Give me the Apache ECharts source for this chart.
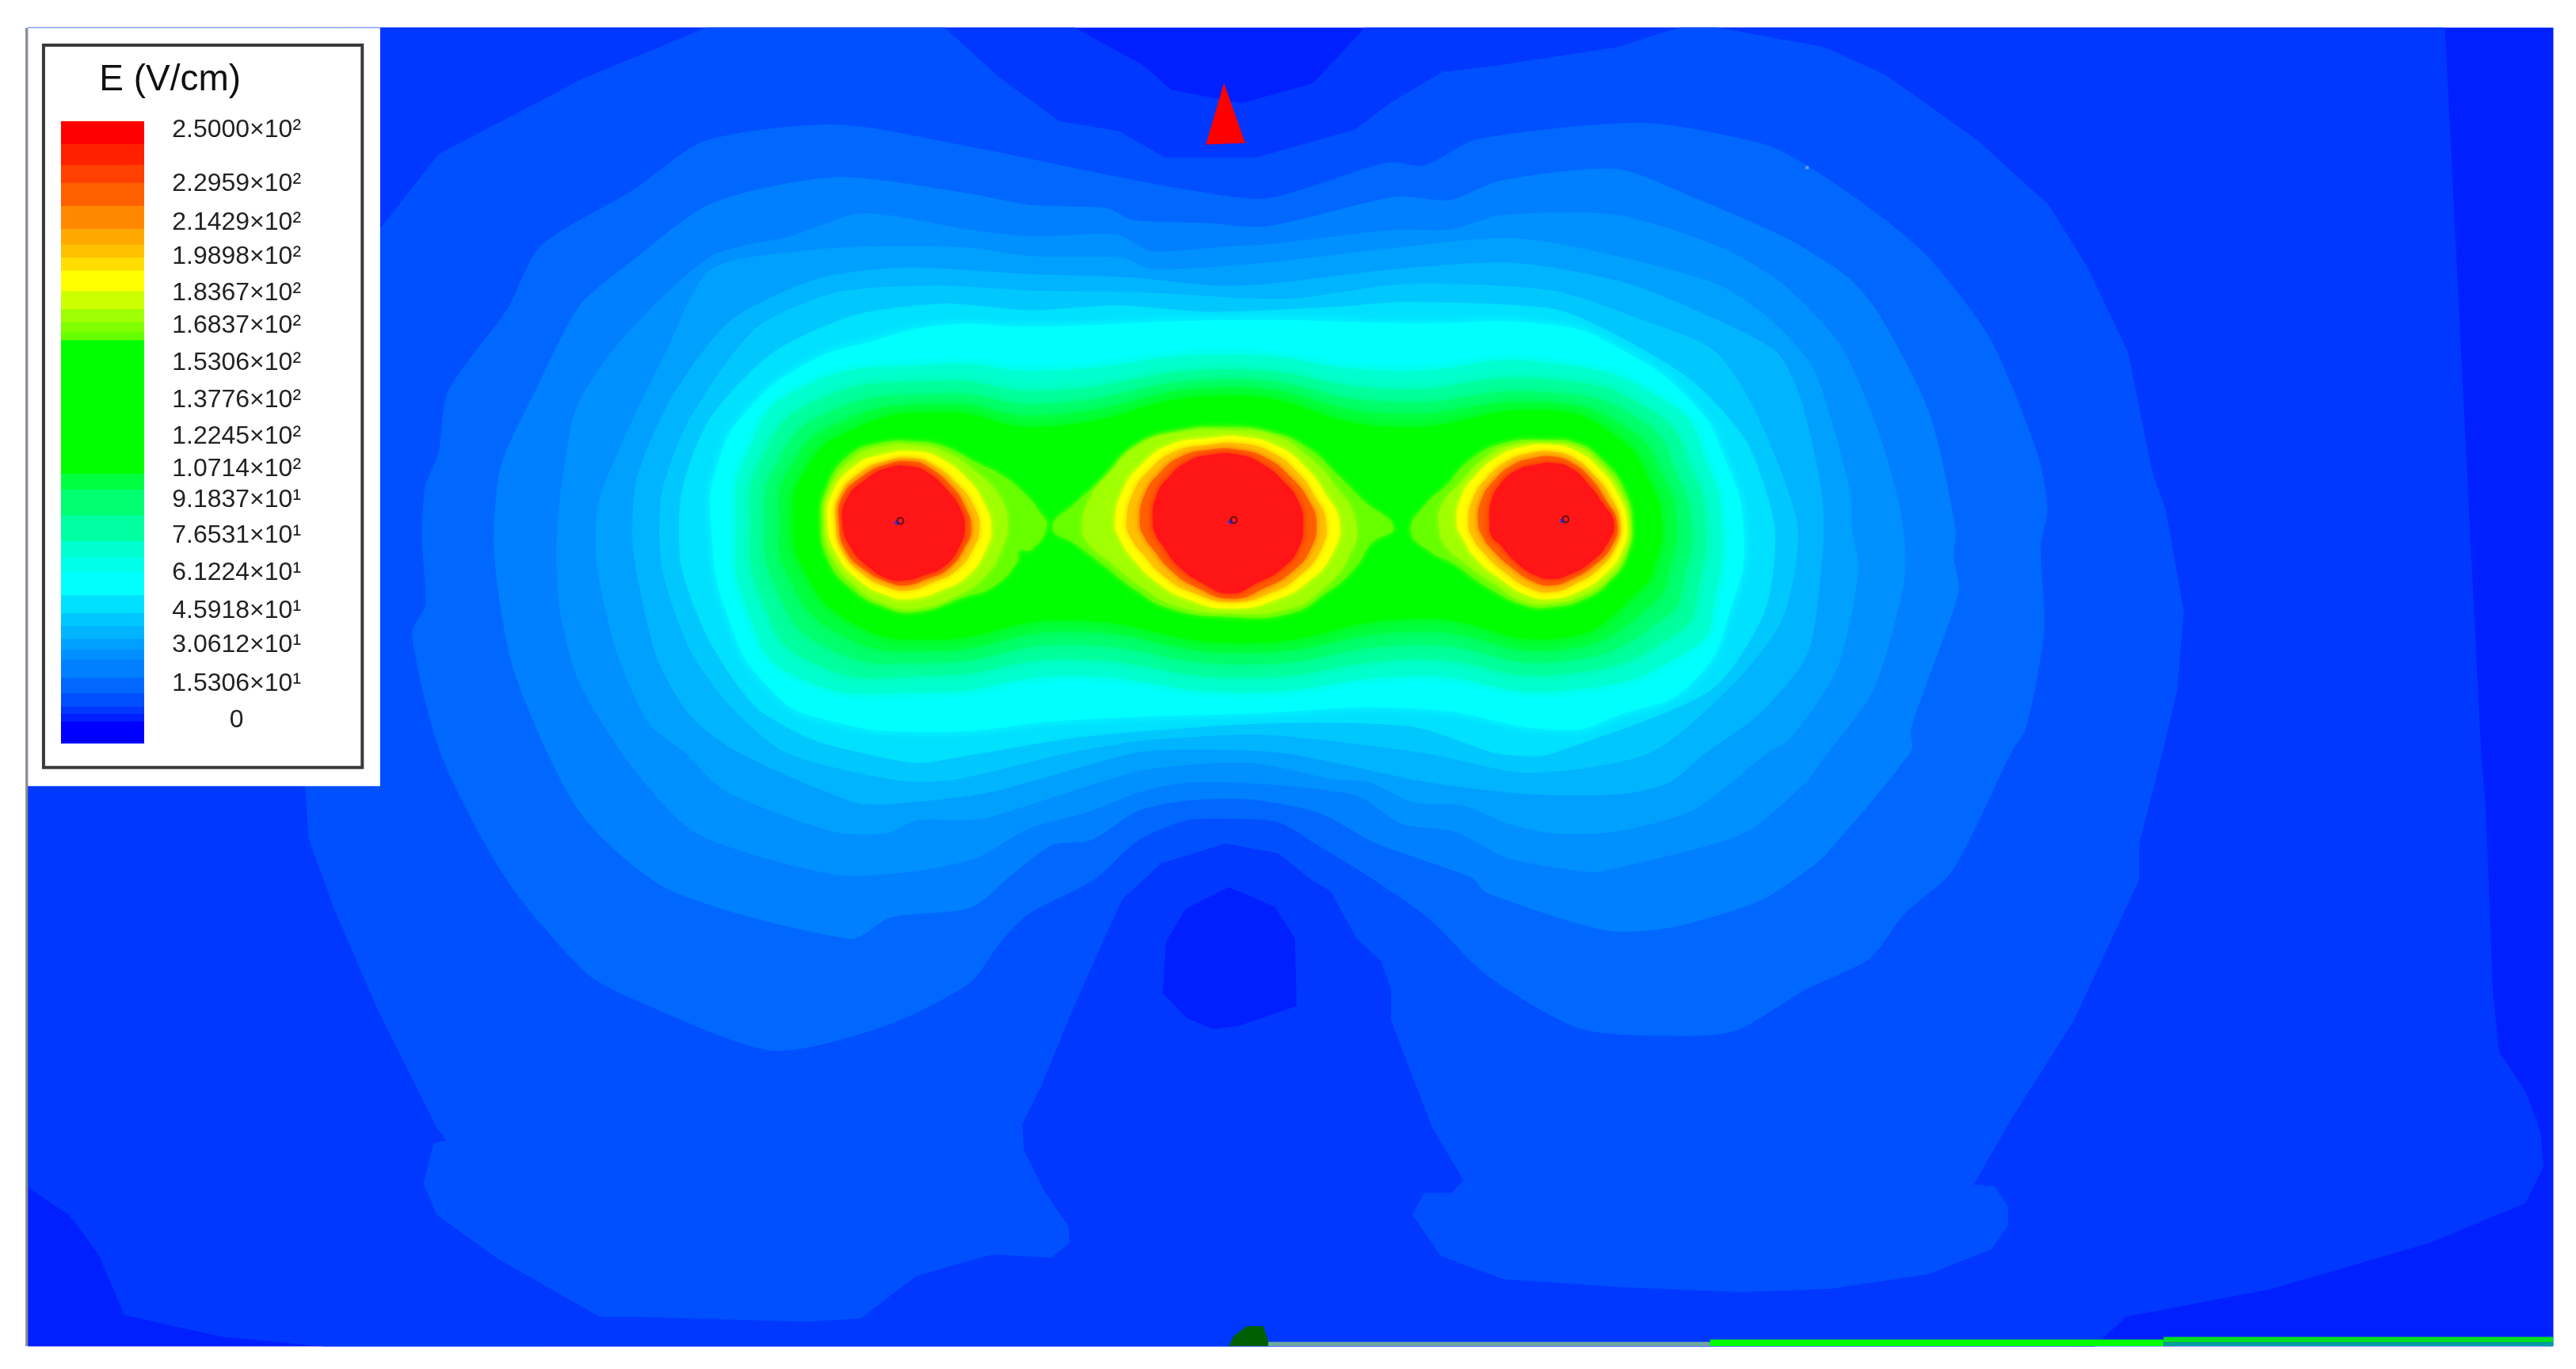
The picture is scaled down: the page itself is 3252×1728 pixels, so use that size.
<!DOCTYPE html>
<html>
<head>
<meta charset="utf-8">
<title>E (V/cm)</title>
<style>
    html, body { margin: 0; padding: 0; background: #fff; }
    #main { width: 3252px; height: 1728px; }
</style>
<script src="https://cdn.jsdelivr.net/npm/echarts@6/dist/echarts.min.js"></script>
</head>
<body>
<div id="main"></div>
<script>
// legend text
var legendTitle = 'E (V/cm)';
var legendLabels = ['2.5000×10²', '2.2959×10²', '2.1429×10²', '1.9898×10²', '1.8367×10²', '1.6837×10²',
    '1.5306×10²', '1.3776×10²', '1.2245×10²', '1.0714×10²', '9.1837×10¹', '7.6531×10¹', '6.1224×10¹',
    '4.5918×10¹', '3.0612×10¹', '1.5306×10¹', '0'];
var legendLabelRows = [79, 112, 135.5, 156.2, 178.4, 198.2, 220.9, 243.5, 265.7, 285.5, 304.3, 326, 348.6, 371.8, 392.5, 416.1, 438.3];

// colour bar: band edges in V/cm, top to bottom, and the colour of each band
var barEdges = [250, 240.8, 232.5, 225.2, 215.9, 206.6, 200.4, 195.2, 190, 181.7, 174.5, 169.3, 165.1, 162,
    108.2, 101.9, 91.6, 81.2, 75, 68.8, 59.5, 52.2, 47, 41.9, 37.7, 33.6, 26.3, 20.1, 14.9, 11.8, 8.7, 0];
var barColors = ['#ff0000', '#ff2000', '#ff4000', '#ff6000', '#ff8800', '#ffa800', '#ffc000', '#ffdd00',
    '#ffff00', '#ccff00', '#a0ff00', '#80ff00', '#66ff00', '#00ff00', '#00ff40', '#00ff70', '#00ffa0',
    '#00ffd0', '#00ffe8', '#00ffff', '#00e0ff', '#00c8ff', '#00b4ff', '#00a0ff', '#0090ff', '#0080ff',
    '#0068ff', '#0050ff', '#0038ff', '#0020ff', '#0000ff'];

// iso-field outlines, in reference units (1568 x 833)
var fieldFrame = [[17, 17], [1554, 17], [1554, 819], [17, 819]];
var contourE13 = [[17, 722], [17, 17], [654, 17], [696, 40], [713, 55], [756, 63], [799, 51], [831, 17], [1488, 17],
    [1510, 458], [1513, 494], [1517, 602], [1521, 640], [1537, 664], [1546, 688],
    [1548, 710], [1537, 732], [1479, 756], [1383, 784], [1294, 801], [1275, 819], [197, 819], [134, 813],
    [76, 800], [60, 763], [43, 740]];
var lowPocket = [[708, 604], [710, 573], [722, 553], [748, 540], [776, 552], [788, 571], [789, 612], [754, 624], [738, 626], [722, 619]];
var contourE17 = [[186, 478], [188, 510], [204, 554], [230, 614], [266, 686], [272, 694], [264, 696], [258, 720],
    [266, 739], [302, 765], [365, 801], [386, 801], [489, 804], [524, 802], [558, 776], [604, 763], [640, 765],
    [651, 756], [650, 746], [635, 724], [623, 700], [622, 684], [633, 662], [652, 616], [671, 573], [683, 547],
    [707, 525], [746, 513], [778, 519], [798, 535], [810, 542], [826, 571], [841, 585], [847, 602], [847, 621],
    [872, 686], [891, 718], [884, 726], [867, 726], [860, 739], [877, 764], [915, 778], [987, 783], [1059, 786],
    [1114, 784], [1174, 775], [1212, 760], [1222, 746], [1222, 734], [1214, 722], [1201, 721], [1224, 681],
    [1262, 621], [1302, 535], [1302, 513], [1316, 458], [1325, 420], [1329, 372], [1318, 310], [1310, 288],
    [1295, 214], [1270, 162], [1247, 125], [1203, 85], [1148, 46], [1111, 29], [1045, 17], [1022, 17], [984, 29],
    [912, 40], [878, 44], [846, 63], [825, 79], [765, 96], [709, 96], [681, 80], [645, 74], [609, 48], [575, 17],
    [430, 17], [355, 48], [267, 94], [231, 140], [200, 300]];
var contourE23 = [[251, 386], [259, 368], [257, 328], [259, 296], [267, 276], [273, 238], [309, 188], [329, 150],
    [385, 116], [429, 86], [509, 76], [593, 90], [681, 108], [725, 116], [771, 121], [845, 99], [867, 101], [899, 85],
    [1000, 75], [1074, 88], [1100, 101], [1141, 129], [1174, 157], [1211, 206], [1240, 276], [1246, 310], [1242, 332],
    [1244, 384], [1233, 443], [1224, 458], [1188, 530], [1159, 556], [1138, 583], [1099, 602], [1059, 626], [1035, 630],
    [963, 626], [906, 594], [870, 559], [836, 535], [802, 514], [778, 500], [747, 498], [722, 499], [693, 511],
    [666, 535], [626, 556], [609, 573], [590, 598], [539, 624], [470, 639], [386, 608], [357, 592], [309, 536], [269, 460]];
var contourE30 = [[301, 336], [305, 284], [327, 236], [353, 186], [381, 162], [433, 124], [509, 108], [590, 118],
    [627, 125], [674, 127], [689, 134], [735, 136], [771, 138], [849, 120], [882, 122], [914, 110], [984, 103],
    [1030, 120], [1089, 146], [1126, 170], [1144, 192], [1174, 251], [1190, 321], [1189, 339], [1192, 360], [1163, 443],
    [1163, 457], [1111, 520], [1099, 530], [1071, 548], [1018, 564], [978, 566], [905, 543], [896, 534], [838, 513],
    [802, 494], [759, 486], [722, 487], [693, 493], [664, 511], [640, 514], [616, 532], [591, 552], [542, 558],
    [518, 571], [407, 541], [353, 494], [313, 408]];
var contourE35 = [[339, 336], [341, 304], [351, 248], [380, 205], [433, 156], [481, 144], [525, 130], [590, 140],
    [627, 144], [680, 143], [701, 153], [749, 150], [771, 149], [849, 140], [882, 140], [915, 131], [984, 131],
    [1048, 151], [1085, 173], [1120, 210], [1143, 262], [1157, 313], [1159, 352], [1140, 420], [1107, 465], [1099, 476],
    [1061, 507], [975, 530], [963, 530], [918, 522], [886, 506], [853, 501], [826, 484], [771, 477], [722, 476],
    [693, 482], [662, 494], [626, 504], [594, 522], [556, 530], [508, 532], [424, 507], [386, 468], [353, 416], [341, 372]];
var contourE40 = [[363, 340], [365, 304], [385, 256], [405, 215], [433, 164], [497, 152], [537, 150], [590, 151],
    [627, 156], [683, 157], [701, 164], [771, 160], [849, 151], [919, 145], [971, 153], [1045, 173], [1078, 195],
    [1104, 225], [1126, 299], [1127, 321], [1131, 347], [1118, 407], [1089, 450], [1076, 458], [1030, 493], [982, 506],
    [946, 507], [918, 501], [891, 490], [860, 488], [834, 476], [812, 474], [761, 464], [698, 468], [650, 482],
    [597, 498], [558, 499], [539, 507], [508, 506], [441, 481], [417, 458], [395, 440], [375, 395]];
var contourE44 = [[385, 325], [388, 290], [410, 240], [445, 195], [497, 170], [550, 163], [627, 167], [688, 169],
    [740, 174], [771, 173], [849, 164], [919, 160], [985, 171], [1030, 188], [1081, 214], [1096, 243], [1109, 302],
    [1109, 339], [1100, 398], [1070, 435], [1038, 458], [1016, 476], [987, 483], [930, 483], [865, 475], [781, 458],
    [720, 456], [690, 458], [602, 482], [542, 489], [520, 488], [450, 458], [420, 435], [400, 400], [388, 350]];
var contourE50 = [[403, 345], [403, 300], [420, 255], [460, 200], [510, 178], [570, 174], [627, 177], [692, 178],
    [783, 182], [856, 173], [945, 177], [1000, 195], [1044, 214], [1070, 254], [1094, 321], [1085, 376], [1056, 415],
    [1004, 458], [930, 470], [867, 458], [771, 447], [700, 450], [650, 458], [582, 474], [549, 475], [479, 458],
    [445, 430], [420, 395]];
var contourE55 = [[415, 345], [415, 300], [432, 255], [470, 215], [520, 192], [575, 185], [627, 189], [681, 186],
    [735, 190], [811, 187], [856, 184], [945, 188], [982, 203], [1030, 232], [1063, 269], [1080, 321], [1074, 372],
    [1041, 420], [946, 458], [934, 460], [910, 458], [860, 442], [771, 440], [660, 448], [592, 459], [558, 464],
    [525, 458], [495, 450], [460, 430], [432, 390]];
var contourE64 = [[433, 318], [438, 280], [455, 250], [490, 222], [530, 208], [576, 198], [627, 199], [752, 195],
    [856, 197], [945, 198], [985, 212], [1030, 245], [1050, 280], [1061, 321], [1055, 365], [1030, 415], [985, 435],
    [951, 444], [864, 431], [757, 434], [651, 438], [567, 445], [500, 437], [470, 420], [445, 380]];
var contourE78 = [[448, 318], [454, 278], [486, 237], [572, 222], [636, 226], [748, 216], [847, 226], [942, 221],
    [1018, 247], [1039, 283], [1048, 318], [1044, 362], [1030, 394], [951, 420], [864, 411], [757, 421], [651, 411],
    [567, 421], [484, 411], [454, 368]];
var contourE86 = [[457, 318], [463, 281], [495, 245], [572, 232], [636, 238], [748, 225], [847, 237], [942, 231],
    [1008, 252], [1030, 287], [1038, 318], [1034, 355], [1022, 384], [951, 410], [864, 401], [757, 412], [651, 401],
    [567, 411], [493, 402], [463, 362]];
var contourE96 = [[466, 318], [472, 284], [503, 252], [572, 240], [636, 246], [748, 231], [847, 245], [942, 239],
    [1000, 257], [1021, 290], [1029, 318], [1025, 350], [1014, 375], [951, 402], [864, 392], [757, 404], [651, 392],
    [567, 403], [502, 393], [472, 356]];
var contourE105 = [[475, 318], [480, 287], [510, 258], [572, 246], [636, 253], [748, 236], [847, 252], [942, 245],
    [992, 262], [1013, 292], [1020, 318], [1016, 345], [1006, 367], [951, 395], [864, 384], [757, 397], [651, 384],
    [567, 396], [510, 385], [480, 350]];
var contourE130 = [[483, 318], [488, 290], [516, 263], [572, 251], [636, 260], [748, 241], [847, 260], [942, 250],
    [985, 267], [1005, 295], [1011, 318], [1008, 340], [998, 359], [951, 388], [864, 376], [757, 391], [649, 377],
    [567, 389], [516, 377], [488, 344]];

// rings round the left conductor
var leftE163 = [[500, 318], [503, 298], [516, 278], [535, 270], [558, 269], [575, 272], [595, 282], [609, 289], [622, 299],
    [633, 312], [637, 320], [628, 334], [620, 335], [619, 342], [604, 357], [587, 363], [558, 372], [538, 369], [517, 357], [504, 340]];
var leftE172 = [[502, 318], [505, 298], [518, 280], [536, 272], [558, 271], [575, 275], [595, 288], [608, 302], [613, 318],
    [609, 335], [600, 350], [585, 361], [558, 370], [538, 367], [519, 355], [506, 338]];
var leftE186 = [[504, 318], [507, 300], [520, 284], [537, 277], [558, 275], [572, 279], [588, 291], [598, 305], [603, 321],
    [599, 336], [589, 350], [575, 358], [555, 364], [540, 362], [522, 352], [509, 336]];
var leftE198 = [[509, 318], [511, 302], [523, 288], [538, 281], [556, 279], [568, 283], [583, 295], [592, 307], [596, 321],
    [592, 334], [582, 347], [568, 354], [553, 359], [540, 357], [525, 349], [513, 335]];
var leftE220 = [[511, 318], [513, 302], [525, 290], [539, 283], [555, 281], [566, 285], [580, 297], [587, 308], [591, 321],
    [587, 333], [577, 346], [564, 352], [551, 356], [541, 354], [527, 347], [515, 335]];
var leftE245 = [[513, 318], [516, 303], [527, 292], [540, 285], [554, 284], [565, 288], [577, 299], [584, 309], [587, 320],
    [584, 332], [575, 344], [562, 350], [550, 353], [541, 352], [529, 345], [518, 333]];

// rings round the middle conductor
var midE163 = [[641, 321], [655, 306], [672, 291], [690, 272], [715, 263], [745, 260], [772, 263], [795, 272], [815, 290],
    [830, 305], [848, 321], [835, 330], [825, 345], [808, 360], [785, 373], [748, 375], [712, 370], [690, 358], [672, 344], [655, 331]];
var midE172 = [[659, 321], [663, 305], [675, 288], [695, 270], [720, 263], [748, 262], [775, 265], [795, 277], [812, 295],
    [825, 318], [820, 340], [805, 358], [785, 370], [748, 373], [715, 368], [695, 357], [675, 341], [663, 331]];
var midE186 = [[679, 318], [684, 298], [695, 283], [712, 271], [735, 267], [755, 266], [778, 272], [795, 285], [806, 300],
    [815, 318], [810, 338], [797, 353], [778, 364], [750, 370], [722, 364], [703, 353], [690, 340], [682, 328]];
var midE198 = [[686, 318], [690, 300], [700, 286], [715, 275], [735, 271], [755, 270], [775, 276], [790, 288], [800, 302],
    [807, 318], [803, 336], [791, 350], [775, 360], [750, 366], [725, 360], [708, 350], [696, 337], [689, 328]];
var midE220 = [[694, 318], [697, 301], [706, 288], [719, 278], [736, 274], [754, 274], [771, 279], [786, 291], [796, 304],
    [801, 318], [797, 335], [786, 348], [771, 357], [750, 364], [728, 357], [713, 347], [702, 334], [697, 327]];
var midE245 = [[702, 318], [704, 302], [712, 290], [723, 281], [737, 277], [754, 277], [769, 283], [782, 294], [790, 305],
    [793, 318], [790, 334], [780, 346], [766, 354], [749, 361], [731, 354], [717, 344], [708, 332], [704, 326]];

// rings round the right conductor
var rightE163 = [[859, 323], [868, 307], [880, 296], [895, 280], [915, 270], [940, 268], [960, 270], [975, 280], [988, 297],
    [993, 318], [990, 338], [980, 353], [965, 364], [945, 369], [928, 368], [905, 357], [885, 343], [870, 335]];
var rightE172 = [[876, 320], [878, 307], [888, 295], [905, 278], [920, 271], [942, 270], [960, 272], [974, 282], [986, 298],
    [992, 318], [989, 337], [979, 352], [964, 362], [945, 367], [928, 366], [908, 354], [890, 341], [880, 332]];
var rightE186 = [[887, 318], [890, 302], [898, 290], [912, 278], [928, 272], [945, 271], [960, 275], [973, 285], [984, 300],
    [990, 318], [987, 335], [977, 349], [962, 359], [945, 364], [930, 362], [912, 351], [898, 339], [891, 328]];
var rightE198 = [[894, 318], [897, 303], [905, 291], [917, 281], [931, 276], [945, 275], [958, 279], [970, 289], [980, 302],
    [986, 318], [983, 333], [973, 346], [959, 355], [945, 360], [932, 358], [916, 348], [904, 337], [897, 328]];
var rightE220 = [[900, 318], [902, 304], [910, 292], [921, 283], [933, 279], [945, 278], [957, 282], [968, 291], [977, 304],
    [984, 318], [981, 332], [970, 344], [957, 352], [945, 356], [934, 354], [920, 345], [909, 335], [903, 327]];
var rightE245 = [[907, 318], [908, 305], [914, 294], [924, 286], [935, 283], [945, 282], [956, 285], [966, 294], [975, 306],
    [982, 318], [978, 331], [968, 342], [956, 349], [945, 352], [935, 350], [923, 342], [913, 331], [908, 326]];

// painting order, outermost first, with the field value of each outline
var contourLayers = [fieldFrame, contourE13, lowPocket, contourE17, contourE23, contourE30, contourE35, contourE40,
    contourE44, contourE50, contourE55, contourE64, contourE78, contourE86, contourE96, contourE105, contourE130,
    leftE163, leftE172, leftE186, leftE198, leftE220, leftE245,
    midE163, midE172, midE186, midE198, midE220, midE245,
    rightE163, rightE172, rightE186, rightE198, rightE220, rightE245];
var contourValues = [10, 13, 10, 17, 23, 30, 35, 40, 44, 50, 55, 64, 78, 86, 96, 105, 130,
    163, 172, 186, 198, 220, 245, 163, 172, 186, 198, 220, 245, 163, 172, 186, 198, 220, 245];

// other things in the scene
var antenna = [[745, 50.5], [758, 87], [734, 88]];
var groundBlob = [[748, 819], [751, 813], [759, 807], [769, 807], [772, 816], [772, 819]];
var groundGrey = [[772, 816.5], [1041, 816.5], [1041, 819], [772, 819]];
var groundGreen = [[1041, 815], [1317, 815], [1317, 819], [1041, 819]];
var groundGreen2 = [[1317, 813.5], [1554, 813.5], [1554, 816.8], [1317, 816.8]];
var groundTeal = [[1317, 816.8], [1554, 816.8], [1554, 819], [1317, 819]];
var frameEdge = [[15.5, 17], [17, 17], [17, 819], [15.5, 819]];
var sceneShapes = [antenna, groundBlob, groundGrey, groundGreen, groundGreen2, groundTeal, frameEdge];
var sceneColors = ['#ff0000', '#005f00', '#6fa8a0', '#00ff00', '#00e020', '#00a0a0', '#8a8a8a'];

var conductorX = [546, 749, 951];
var conductorY = [318, 317.5, 317];
var strayPoint = [[1100, 102]];

// legend panel and frame
var legendPanel = [[17, 17], [231.4, 17], [231.4, 478.3], [17, 478.3]];
var legendFrame = [[26.5, 27.5], [220.5, 27.5], [220.5, 467], [26.5, 467]];

function colorOf(value) {
    if (value >= 240) {
        return '#ff1616';
    }
    for (var i = 0; i < barColors.length; i++) {
        if (value > barEdges[i + 1]) {
            return barColors[i];
        }
    }
    return barColors[barColors.length - 1];
}

function polygonItem(points, api, style, smooth) {
    return {
        type: 'polygon',
        shape: {
            smooth: smooth || 0,
            points: points.map(function (p) {
                return api.coord(p);
            })
        },
        style: style
    };
}

function indexData(list) {
    return list.map(function (item, i) {
        return [i];
    });
}

// the bands near the conductors are soft and round, the outer ones more faceted
function layerStyle(value) {
    var color = colorOf(value);
    var style = { fill: color, stroke: color, lineWidth: 1 };
    if (value >= 64) {
        style.shadowColor = color;
        style.shadowBlur = value >= 163 ? 7 : 14;
    }
    return style;
}

function layerSmooth(value) {
    if (value >= 64) {
        return 0.5;
    }
    return value >= 23 ? 0.25 : 0;
}

var chart = echarts.init(document.getElementById('main'), null, { renderer: 'canvas' });

chart.setOption({
    animation: false,
    backgroundColor: '#ffffff',
    grid: [
        { left: 0, right: 0, top: 0, bottom: 0 },
        // colour bar
        { left: 77, top: 153, width: 105, height: 785 }
    ],
    xAxis: [
        { type: 'value', min: 0, max: 1568, show: false, gridIndex: 0 },
        { type: 'value', min: 0, max: 1, show: false, gridIndex: 1 }
    ],
    yAxis: [
        { type: 'value', min: 0, max: 833, inverse: true, show: false, gridIndex: 0 },
        { type: 'value', min: 0, max: 250, show: false, gridIndex: 1 }
    ],
    series: [
        {
            // field bands
            type: 'custom',
            z: 1,
            silent: true,
            coordinateSystem: 'cartesian2d',
            data: indexData(contourLayers),
            renderItem: function (params, api) {
                var i = params.dataIndex;
                var value = contourValues[i];
                return polygonItem(contourLayers[i], api, layerStyle(value), layerSmooth(value));
            }
        },
        {
            type: 'custom',
            z: 2,
            silent: true,
            coordinateSystem: 'cartesian2d',
            data: indexData(sceneShapes),
            renderItem: function (params, api) {
                var i = params.dataIndex;
                return polygonItem(sceneShapes[i], api, { fill: sceneColors[i] });
            }
        },
        {
            // conductors
            type: 'scatter',
            z: 3,
            silent: true,
            symbolSize: 6,
            itemStyle: { color: '#2030ff' },
            data: conductorX.map(function (x, i) {
                return [x, conductorY[i]];
            })
        },
        {
            type: 'scatter',
            z: 3,
            silent: true,
            symbolSize: 8,
            itemStyle: { color: 'transparent', borderColor: '#3a1010', borderWidth: 2 },
            data: conductorX.map(function (x, i) {
                return [x + 2, conductorY[i] - 1];
            })
        },
        {
            type: 'scatter',
            z: 3,
            silent: true,
            symbol: 'rect',
            symbolSize: 4,
            itemStyle: { color: '#80a8ff' },
            data: strayPoint
        },
        {
            // legend background
            type: 'custom',
            z: 5,
            silent: true,
            coordinateSystem: 'cartesian2d',
            data: [[0]],
            renderItem: function (params, api) {
                return {
                    type: 'group',
                    children: [
                        polygonItem(legendPanel, api, { fill: '#ffffff' }),
                        polygonItem(legendFrame, api, { fill: '#ffffff', stroke: '#3a3a3a', lineWidth: 4 })
                    ]
                };
            }
        },
        {
            // colour bar
            type: 'custom',
            z: 6,
            silent: true,
            xAxisIndex: 1,
            yAxisIndex: 1,
            coordinateSystem: 'cartesian2d',
            data: indexData(barColors),
            renderItem: function (params, api) {
                var i = params.dataIndex;
                var a = api.coord([0, barEdges[i]]);
                var b = api.coord([1, barEdges[i + 1]]);
                return {
                    type: 'rect',
                    shape: { x: a[0], y: a[1], width: b[0] - a[0], height: b[1] - a[1] + 0.5 },
                    style: { fill: barColors[i] }
                };
            }
        },
        {
            // legend labels
            type: 'custom',
            z: 7,
            silent: true,
            coordinateSystem: 'cartesian2d',
            data: indexData(legendLabels),
            renderItem: function (params, api) {
                var i = params.dataIndex;
                var p = api.coord([144, legendLabelRows[i]]);
                return {
                    type: 'text',
                    x: p[0],
                    y: p[1],
                    style: {
                        text: legendLabels[i],
                        fill: '#222222',
                        align: 'center',
                        verticalAlign: 'middle',
                        font: '32px "Liberation Sans"'
                    }
                };
            }
        },
        {
            // legend title
            type: 'custom',
            z: 7,
            silent: true,
            coordinateSystem: 'cartesian2d',
            data: [[0]],
            renderItem: function (params, api) {
                var p = api.coord([103.5, 49]);
                return {
                    type: 'text',
                    x: p[0],
                    y: p[1],
                    style: {
                        text: legendTitle,
                        fill: '#111111',
                        align: 'center',
                        verticalAlign: 'middle',
                        font: '46px "Liberation Sans"'
                    }
                };
            }
        }
    ]
});
</script>
</body>
</html>
